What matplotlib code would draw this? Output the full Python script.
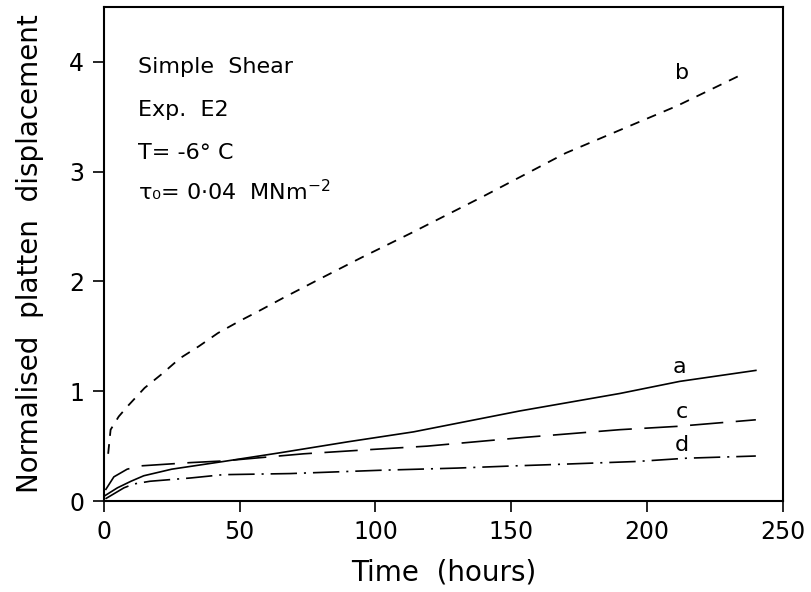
import matplotlib
matplotlib.use('Agg')
import matplotlib.pyplot as plt

plt.rcParams['font.family'] = ['DejaVu Sans']
plt.rcParams['lines.scale_dashes'] = False

# curve a (solid)
a_t = [0.5, 5, 10, 14.7, 25, 44, 65, 90, 114, 153, 190, 212, 240]
a_y = [0.05, 0.12, 0.18, 0.23, 0.29, 0.36, 0.44, 0.54, 0.63, 0.82, 0.98, 1.09, 1.19]

# curve b (short dashes)
b_t = [1.6, 2.5, 5.5, 9, 15, 21.5, 28, 35, 42, 50, 57, 66, 80, 95, 113, 140, 170, 190, 211, 236]
b_y = [0.43, 0.65, 0.77, 0.87, 1.03, 1.16, 1.30, 1.41, 1.53, 1.64, 1.73, 1.85, 2.03, 2.22, 2.44, 2.78, 3.17, 3.38, 3.6, 3.90]

# curve c (long dashes)
c_t = [0.6, 3.7, 8.6, 13.5, 32, 44, 73.5, 99, 119, 137, 155, 190, 211, 240]
c_y = [0.10, 0.22, 0.29, 0.32, 0.35, 0.365, 0.43, 0.47, 0.50, 0.54, 0.58, 0.65, 0.68, 0.74]

# curve d (dash-dot)
d_t = [0.6, 7.4, 11, 17, 32, 44, 68.6, 101.7, 130, 151, 163, 196, 214.5, 240]
d_y = [0.02, 0.12, 0.155, 0.18, 0.21, 0.24, 0.25, 0.28, 0.30, 0.32, 0.33, 0.36, 0.39, 0.41]

notes = ['Simple  Shear', 'Exp.  E2', 'T= -6° C', 'τ₀= 0·04  MNm$^{-2}$']
note_y = [3.95, 3.56, 3.17, 2.82]

fig = plt.figure(figsize=(8.11, 5.92), dpi=100)
ax = fig.add_axes([0.128, 0.1537, 0.8375, 0.8343])

ax.plot(a_t, a_y, color='black', lw=1.2)
ax.plot(b_t, b_y, color='black', lw=1.3, dashes=(7, 6))
ax.plot(c_t, c_y, color='black', lw=1.2, dashes=(24, 9))
ax.plot(d_t, d_y, color='black', lw=1.2, dashes=(19, 5, 1.5, 5))

ax.text(213, 3.81, 'b', fontsize=16, ha='center', va='bottom')
ax.text(212, 1.13, 'a', fontsize=16, ha='center', va='bottom')
ax.text(212.6, 0.72, 'c', fontsize=16, ha='center', va='bottom')
ax.text(212.6, 0.42, 'd', fontsize=16, ha='center', va='bottom')

for s, yy in zip(notes, note_y):
    ax.text(12.5, yy, s, fontsize=16, va='center', ha='left')

ax.set_xlim(0, 250)
ax.set_ylim(0, 4.5)
ax.set_xticks([0, 50, 100, 150, 200, 250])
ax.set_yticks([0, 1, 2, 3, 4])
ax.tick_params(direction='out', length=8, width=1.2, labelsize=17, pad=6,
               top=False, right=False)
for sp in ax.spines.values():
    sp.set_linewidth(1.5)

ax.set_xlabel('Time  (hours)', fontsize=20, labelpad=10)
ax.set_ylabel('Normalised  platten  displacement', fontsize=20, labelpad=18)

fig.savefig('out.png', dpi=100)
